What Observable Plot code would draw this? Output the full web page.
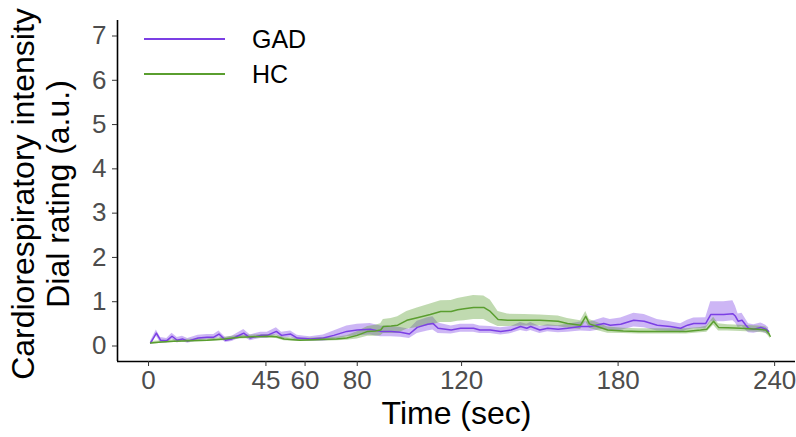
<!DOCTYPE html>
<html><head><meta charset="utf-8">
<script src="https://cdn.jsdelivr.net/npm/d3@7"></script>
<script src="https://cdn.jsdelivr.net/npm/@observablehq/plot@0.6"></script>
<style>
body{margin:0;background:#fff;font-family:"Liberation Sans",Arial,sans-serif;}
#wrap{position:relative;width:796px;height:437px;}
#legend{position:absolute;left:0;top:0;}
</style></head>
<body><div id="wrap"><div id="chart"></div><svg id="legend" width="340" height="100"></svg></div>
<script>
// GAD group: time (sec), mean rating, lower/upper band
const gadT    = [0.8,3,4.6,7,9,11,13,15,19,22.5,25,27,29.5,32,34,36.5,39,43,45.5,49,51,54.5,57,60,62,67,71,76,80,85,89,93,96.6,100,103,107,109,111,116,119.6,124.6,127,131,135,139,142.6,145,146.5,150,153,157,160.6,165.6,169.5,174.5,177,181,186,190,195,200,204,206.6,209,213.6,215.5,220.5,224,225,226,227.5,229,230,232,234.7,236.6,237.7];
const gadMean = [0.07,0.29,0.13,0.12,0.22,0.13,0.16,0.11,0.18,0.2,0.2,0.27,0.13,0.16,0.22,0.29,0.18,0.24,0.24,0.33,0.24,0.27,0.18,0.17,0.16,0.18,0.24,0.33,0.36,0.38,0.33,0.33,0.31,0.27,0.42,0.49,0.51,0.4,0.36,0.4,0.4,0.36,0.36,0.33,0.36,0.44,0.4,0.44,0.36,0.4,0.38,0.4,0.44,0.44,0.51,0.47,0.49,0.58,0.56,0.47,0.44,0.4,0.47,0.51,0.51,0.71,0.71,0.73,0.67,0.56,0.58,0.47,0.4,0.38,0.42,0.38,0.33];
const gadLo   = [0.03,0.22,0.07,0.07,0.15,0.07,0.1,0.06,0.12,0.14,0.14,0.2,0.08,0.1,0.15,0.21,0.12,0.17,0.17,0.25,0.17,0.2,0.12,0.12,0.11,0.11,0.14,0.21,0.23,0.25,0.21,0.21,0.2,0.17,0.28,0.34,0.36,0.28,0.27,0.31,0.31,0.28,0.28,0.25,0.28,0.35,0.32,0.35,0.28,0.32,0.3,0.31,0.34,0.33,0.38,0.34,0.35,0.43,0.41,0.34,0.33,0.3,0.36,0.39,0.39,0.55,0.55,0.57,0.52,0.42,0.44,0.35,0.3,0.29,0.32,0.29,0.25];
const gadHi   = [0.11,0.36,0.19,0.17,0.29,0.19,0.22,0.17,0.24,0.26,0.26,0.34,0.19,0.22,0.29,0.37,0.25,0.31,0.31,0.41,0.31,0.34,0.24,0.22,0.21,0.25,0.34,0.45,0.49,0.51,0.45,0.44,0.42,0.38,0.56,0.64,0.66,0.52,0.45,0.49,0.49,0.45,0.44,0.41,0.44,0.53,0.49,0.53,0.44,0.48,0.46,0.49,0.54,0.55,0.64,0.6,0.63,0.74,0.71,0.6,0.55,0.5,0.58,0.63,0.64,1.0,1.0,1.02,0.9,0.72,0.74,0.6,0.5,0.48,0.52,0.47,0.41];

// HC group
const hcT    = [0.8,5,9.6,16,22.5,29,35,40,45.5,49,52,58,63,67,72,76,80,84,87,89,90,93,95.5,99,103,108,112,116,118.5,121,124.6,128.5,131,134,137.6,144,150,157,160.6,165.6,167.6,169,172,176,182,188,195,201,206,211.6,214,216.6,218.5,222,227,233.5,236.6,237.7,238.3];
const hcMean = [0.07,0.09,0.11,0.12,0.13,0.16,0.2,0.21,0.22,0.21,0.16,0.13,0.14,0.15,0.16,0.18,0.24,0.33,0.34,0.36,0.44,0.45,0.47,0.58,0.64,0.71,0.78,0.78,0.82,0.84,0.87,0.87,0.78,0.6,0.58,0.58,0.58,0.56,0.51,0.47,0.67,0.5,0.44,0.36,0.34,0.33,0.33,0.33,0.33,0.36,0.38,0.56,0.42,0.41,0.4,0.38,0.36,0.29,0.22];
const hcLo   = [0.04,0.06,0.08,0.09,0.1,0.12,0.16,0.17,0.18,0.17,0.12,0.1,0.1,0.11,0.12,0.13,0.16,0.22,0.22,0.23,0.28,0.28,0.29,0.38,0.42,0.47,0.53,0.53,0.56,0.57,0.6,0.6,0.52,0.44,0.44,0.45,0.45,0.44,0.4,0.37,0.55,0.4,0.35,0.29,0.28,0.27,0.27,0.27,0.27,0.3,0.31,0.47,0.34,0.34,0.33,0.31,0.29,0.22,0.16];
const hcHi   = [0.1,0.12,0.14,0.15,0.16,0.2,0.24,0.25,0.26,0.25,0.2,0.17,0.18,0.19,0.2,0.23,0.32,0.44,0.47,0.5,0.6,0.62,0.66,0.78,0.86,0.95,1.02,1.03,1.07,1.1,1.14,1.13,1.04,0.78,0.72,0.71,0.7,0.68,0.62,0.57,0.78,0.6,0.53,0.43,0.4,0.39,0.39,0.39,0.39,0.42,0.45,0.65,0.5,0.48,0.47,0.45,0.43,0.36,0.28];

const xTicks = [0,45,60,80,120,180,240];
const yTicks = [0,1,2,3,4,5,6,7];
const groups = ["GAD","HC"];
const colors = ["#7b3fe4","#5a9e2f"];
const xLabel = "Time (sec)";
const yLabel = "Cardiorespiratory intensity\nDial rating (a.u.)";

const gad = gadT.map((t,i)=>({t, v:gadMean[i], lo:gadLo[i], hi:gadHi[i], g:"GAD"}));
const hc  = hcT.map((t,i)=>({t, v:hcMean[i], lo:hcLo[i], hi:hcHi[i], g:"HC"}));
const all = gad.concat(hc);

const xDom = [-11.9, 248];
const yDom = [-0.35, 7.35];
const font = '"Liberation Sans", Arial, sans-serif';

const chart = Plot.plot({
  width: 796, height: 437,
  marginLeft: 117, marginRight: 1, marginTop: 20, marginBottom: 76,
  style: {fontFamily: font, background: "#fff"},
  x: {domain: xDom, ticks: xTicks, label: null},
  y: {domain: yDom, ticks: yTicks, label: null},
  color: {domain: groups, range: colors},
  marks: [
    Plot.areaY(all, {x:"t", y1:"lo", y2:"hi", fill:"g", fillOpacity:0.38, z:"g"}),
    Plot.line(all, {x:"t", y:"v", stroke:"g", z:"g", strokeWidth:1.5}),
    Plot.ruleX([xDom[0]], {stroke:"#000", strokeWidth:1.6}),
    Plot.ruleY([yDom[0]], {stroke:"#000", strokeWidth:1.6}),
    Plot.axisX({ticks: xTicks, tickSize:5, tickPadding:4, fontSize:26, color:"#4d4d4d", stroke:"#333", label:null}),
    Plot.axisY({ticks: yTicks, tickSize:5, tickPadding:6, fontSize:26, color:"#4d4d4d", stroke:"#333", label:null}),
    Plot.text([xLabel], {frameAnchor:"bottom", lineAnchor:"middle", dy:52, fontSize:32, fill:"#000"}),
    Plot.text([yLabel], {frameAnchor:"left", textAnchor:"middle", dx:-77, dy:3, rotate:-90, fontSize:32, lineHeight:1.07, fill:"#000"})
  ]
});
document.getElementById("chart").appendChild(chart);

// legend
const lg = d3.select("#legend");
groups.forEach((g,i)=>{
  const y = 39 + i*35;
  lg.append("line").attr("x1",144).attr("x2",225).attr("y1",y).attr("y2",y)
    .attr("stroke",colors[i]).attr("stroke-width",2);
  lg.append("text").attr("x",252).attr("y",y).attr("dy","0.35em")
    .attr("font-size",25).attr("font-family",font).attr("fill","#000").text(g);
});
</script></body></html>
